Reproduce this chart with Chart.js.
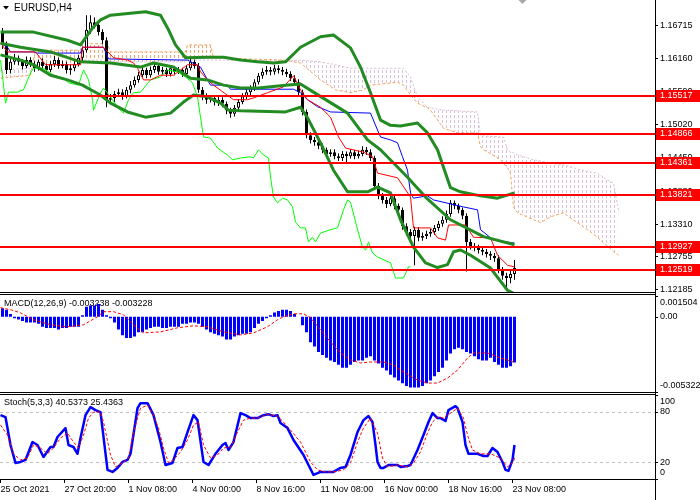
<!DOCTYPE html>
<html><head><meta charset="utf-8">
<script src="https://cdn.jsdelivr.net/npm/chart.js@4.4.1/dist/chart.umd.min.js"></script>
<style>
html,body{margin:0;padding:0;background:#fff;}
#wrap{position:relative;width:700px;height:500px;overflow:hidden;background:#fff;}
canvas{position:absolute;left:0;}
</style></head><body>
<div id="wrap">
<canvas id="cMain" width="700" height="293" style="top:0px"></canvas>
<canvas id="cMacd" width="700" height="100" style="top:293px"></canvas>
<canvas id="cStoch" width="700" height="107" style="top:393px"></canvas>
</div>
<script>
// ---------------- DATA ----------------
const titleText = 'EURUSD,H4';
const macdTitle = 'MACD(12,26,9) -0.003238 -0.003228';
const stochTitle = 'Stoch(5,3,3) 40.5373 25.4363';

const xLabels = ['25 Oct 2021','27 Oct 20:00','1 Nov 08:00','4 Nov 00:00','8 Nov 16:00','11 Nov 08:00','16 Nov 00:00','18 Nov 16:00','23 Nov 08:00'];
const xLabelBars = [0,16,32,48,64,80,96,112,128];

const yTicks = [1.12185,1.12755,1.13310,1.13880,1.14450,1.15020,1.15590,1.16160,1.16715];
const levels = [1.15517,1.14866,1.14361,1.13821,1.12927,1.12519];
const priceMin = 1.12150, priceMax = 1.17161;

const opens = [
1.1661,1.1639,1.1596,1.1610,1.1617,1.1610,1.1603,1.1613,1.1606,1.1599,
1.1610,1.1603,1.1596,1.1606,1.1613,1.1603,1.1606,1.1596,1.1599,1.1606,
1.1617,1.1630,1.1665,1.1678,1.1673,1.1661,1.1647,1.1545,1.1548,1.1555,
1.1558,1.1551,1.1562,1.1570,1.1579,1.1587,1.1596,1.1587,1.1596,1.1603,
1.1593,1.1596,1.1589,1.1599,1.1593,1.1596,1.1589,1.1599,1.1610,1.1603,
1.1562,1.1551,1.1545,1.1548,1.1541,1.1545,1.1538,1.1527,1.1521,1.1531,
1.1541,1.1551,1.1558,1.1565,1.1575,1.1586,1.1593,1.1596,1.1593,1.1599,
1.1596,1.1593,1.1589,1.1582,1.1575,1.1558,1.1524,1.1484,1.1476,1.1472,
1.1466,1.1459,1.1452,1.1455,1.1448,1.1445,1.1452,1.1448,1.1455,1.1448,
1.1452,1.1459,1.1455,1.1445,1.1397,1.1380,1.1373,1.1366,1.1376,1.1363,
1.1356,1.1328,1.1318,1.1311,1.1322,1.1308,1.1311,1.1315,1.1318,1.1325,
1.1332,1.1339,1.1349,1.1368,1.1363,1.1356,1.1346,1.1301,1.1294,1.1291,
1.1287,1.1284,1.1280,1.1277,1.1273,1.1253,1.1243,1.1239,1.1246];
const highs = [
1.1668,1.1645,1.1616,1.1624,1.1621,1.1615,1.1619,1.1618,1.1611,1.1614,
1.1616,1.1607,1.1611,1.1620,1.1617,1.1612,1.1610,1.1605,1.1611,1.1622,
1.1636,1.1690,1.1690,1.1686,1.1680,1.1666,1.1652,1.1555,1.1560,1.1564,
1.1563,1.1567,1.1577,1.1585,1.1593,1.1601,1.1600,1.1602,1.1609,1.1607,
1.1601,1.1600,1.1604,1.1603,1.1601,1.1600,1.1604,1.1617,1.1614,1.1608,
1.1567,1.1556,1.1553,1.1552,1.1550,1.1549,1.1542,1.1531,1.1536,1.1546,
1.1556,1.1564,1.1570,1.1580,1.1591,1.1599,1.1603,1.1601,1.1605,1.1604,
1.1601,1.1598,1.1594,1.1587,1.1580,1.1562,1.1528,1.1489,1.1481,1.1478,
1.1470,1.1463,1.1460,1.1460,1.1453,1.1457,1.1456,1.1460,1.1459,1.1458,
1.1465,1.1464,1.1460,1.1449,1.1402,1.1385,1.1378,1.1382,1.1380,1.1367,
1.1360,1.1333,1.1323,1.1327,1.1326,1.1317,1.1320,1.1323,1.1330,1.1337,
1.1345,1.1355,1.1373,1.1372,1.1367,1.1360,1.1350,1.1306,1.1299,1.1296,
1.1292,1.1289,1.1285,1.1282,1.1278,1.1258,1.1248,1.1251,1.1270];
const lows = [
1.1632,1.1589,1.1590,1.1605,1.1604,1.1597,1.1599,1.1601,1.1593,1.1595,
1.1598,1.1590,1.1592,1.1601,1.1598,1.1599,1.1590,1.1588,1.1594,1.1602,
1.1612,1.1626,1.1658,1.1667,1.1655,1.1640,1.1532,1.1538,1.1541,1.1550,
1.1545,1.1547,1.1556,1.1566,1.1574,1.1583,1.1582,1.1583,1.1591,1.1588,
1.1588,1.1584,1.1585,1.1587,1.1589,1.1584,1.1585,1.1595,1.1598,1.1557,
1.1544,1.1538,1.1540,1.1535,1.1534,1.1532,1.1520,1.1514,1.1516,1.1527,
1.1537,1.1546,1.1553,1.1560,1.1571,1.1581,1.1588,1.1587,1.1588,1.1590,
1.1587,1.1584,1.1577,1.1569,1.1552,1.1518,1.1479,1.1470,1.1466,1.1460,
1.1453,1.1446,1.1447,1.1443,1.1440,1.1440,1.1438,1.1444,1.1443,1.1444,
1.1448,1.1450,1.1440,1.1392,1.1374,1.1367,1.1359,1.1362,1.1357,1.1350,
1.1322,1.1312,1.1304,1.1261,1.1302,1.1303,1.1306,1.1310,1.1313,1.1320,
1.1327,1.1334,1.1344,1.1357,1.1350,1.1340,1.1250,1.1288,1.1285,1.1281,
1.1278,1.1274,1.1270,1.1267,1.1247,1.1236,1.1223,1.1230,1.1236];
const closes = [
1.1639,1.1596,1.1610,1.1617,1.1610,1.1603,1.1613,1.1606,1.1599,1.1610,
1.1603,1.1596,1.1606,1.1613,1.1603,1.1606,1.1596,1.1599,1.1606,1.1617,
1.1630,1.1665,1.1678,1.1673,1.1661,1.1647,1.1545,1.1548,1.1555,1.1558,
1.1551,1.1562,1.1570,1.1579,1.1587,1.1596,1.1587,1.1596,1.1603,1.1593,
1.1596,1.1589,1.1599,1.1593,1.1596,1.1589,1.1599,1.1610,1.1603,1.1562,
1.1551,1.1545,1.1548,1.1541,1.1545,1.1538,1.1527,1.1521,1.1531,1.1541,
1.1551,1.1558,1.1565,1.1575,1.1586,1.1593,1.1596,1.1593,1.1599,1.1596,
1.1593,1.1589,1.1582,1.1575,1.1558,1.1524,1.1484,1.1476,1.1472,1.1466,
1.1459,1.1452,1.1455,1.1448,1.1445,1.1452,1.1448,1.1455,1.1448,1.1452,
1.1459,1.1455,1.1445,1.1397,1.1380,1.1373,1.1366,1.1376,1.1363,1.1356,
1.1328,1.1318,1.1311,1.1322,1.1308,1.1311,1.1315,1.1318,1.1325,1.1332,
1.1339,1.1349,1.1368,1.1363,1.1356,1.1346,1.1301,1.1294,1.1291,1.1287,
1.1284,1.1280,1.1277,1.1273,1.1253,1.1243,1.1239,1.1246,1.1256];

// Bollinger bands [bar, price]
const bbUpper = [[-0.5,1.1661],[7.75,1.1661],[16.25,1.1647],[19.5,1.1639],[20.75,1.1651],[22.5,1.1668],[24.5,1.1682],[27,1.1690],[35.75,1.1696],[39.5,1.1690],[41.5,1.1665],[43.25,1.1639],[45.75,1.1617],[51.25,1.1618],[55.25,1.1618],[59.5,1.1613],[63.75,1.1610],[67.75,1.1608],[70.75,1.1610],[74.5,1.1635],[79.5,1.1653],[82.75,1.1656],[87,1.1634],[89.5,1.1601],[92,1.1557],[94.5,1.1510],[97,1.1501],[99.5,1.1500],[103.75,1.1505],[106.25,1.1488],[108.75,1.1459],[112,1.1394],[114.5,1.1387],[119.5,1.1380],[123.75,1.1376],[128,1.1385]];
const bbMiddle = [[-0.5,1.1642],[4.5,1.1635],[12,1.1627],[19.5,1.1610],[27,1.1608],[34.5,1.1601],[37.75,1.1608],[42.75,1.1601],[47,1.1582],[51.25,1.1579],[55.25,1.1570],[59.5,1.1565],[64,1.1565],[70.75,1.1570],[74.5,1.1572],[77.75,1.1558],[86.25,1.1522],[91.25,1.1476],[94.5,1.1459],[101.25,1.1412],[105.75,1.1378],[112,1.1339],[120.25,1.1310],[128,1.1296]];
const bbLower = [[-0.5,1.1622],[4.5,1.1613],[7.75,1.1605],[12,1.1587],[16.25,1.1579],[20,1.1570],[21.25,1.1565],[24.5,1.1553],[27,1.1539],[31.25,1.1524],[35.75,1.1515],[42,1.1522],[45.25,1.1541],[47.75,1.1553],[51.25,1.1550],[54.5,1.1539],[56.5,1.1527],[59.5,1.1526],[70.75,1.1524],[74.5,1.1532],[76.25,1.1514],[79.5,1.1471],[82.75,1.1424],[86.25,1.1387],[91.25,1.1387],[93.75,1.1395],[97,1.1385],[99.5,1.1339],[102.75,1.1292],[105.75,1.1265],[108.75,1.1257],[111.25,1.1262],[112.75,1.1284],[114.5,1.1287],[117,1.1278],[122,1.1256],[126.25,1.1218],[128,1.1212]];

// Ichimoku [bar, price]
const tenkan = [[-0.5,1.1642],[1.25,1.1627],[8.25,1.1627],[10.75,1.1605],[19.5,1.1605],[20,1.1635],[25.25,1.1635],[27.75,1.1617],[31.25,1.1613],[32.75,1.1608],[33.75,1.1599],[35.25,1.1579],[37,1.1579],[39.5,1.1587],[42.75,1.1587],[46.25,1.1605],[48.75,1.1605],[49.5,1.1593],[51.25,1.1579],[52.75,1.1570],[57.75,1.1545],[61.25,1.1545],[62.75,1.1548],[66.25,1.1557],[70.25,1.1567],[72.75,1.1586],[74.5,1.1562],[76.25,1.1545],[79.5,1.1532],[82,1.1515],[84,1.1481],[85.75,1.1462],[90.25,1.1455],[92.5,1.1447],[93.75,1.1419],[98.75,1.1411],[102,1.1378],[102.75,1.1325],[107,1.1325],[108.75,1.1308],[110.75,1.1304],[111.5,1.1330],[115.75,1.1330],[117.75,1.1309],[122,1.1308],[123.75,1.1278],[126.25,1.1261],[128,1.1258]];
const kijun = [[-0.5,1.1642],[1.25,1.1635],[2,1.1627],[7.75,1.1627],[8.75,1.1625],[19.5,1.1625],[20,1.1635],[25.25,1.1635],[26.5,1.1615],[46.25,1.1613],[49.5,1.1601],[51.25,1.1579],[52,1.1570],[56.25,1.1570],[57,1.1563],[72.75,1.1563],[74.5,1.1557],[76.25,1.1545],[78.75,1.1533],[82,1.1524],[92,1.1522],[93.75,1.1493],[94.5,1.1481],[97,1.1476],[98.75,1.1471],[100,1.1447],[101.25,1.1424],[102,1.1385],[102.75,1.1376],[106.25,1.1380],[107.75,1.1373],[115.25,1.1361],[118.75,1.1356],[119.5,1.1322],[122.75,1.1304],[128,1.1299]];
const chikou = [[-0.5,1.1613],[0.25,1.1570],[0.75,1.1539],[1.5,1.1558],[3.75,1.1558],[5.25,1.1562],[7,1.1591],[7.75,1.1599],[10.25,1.1599],[12.75,1.1587],[15.25,1.1582],[16.5,1.1574],[19,1.1570],[20.25,1.1596],[21.5,1.1579],[22.5,1.1545],[22.75,1.1527],[24.5,1.1557],[25.25,1.1565],[27,1.1550],[28.75,1.1532],[30.25,1.1522],[31.5,1.1545],[32.75,1.1557],[34.5,1.1558],[37,1.1579],[39.5,1.1584],[41.25,1.1596],[43.75,1.1593],[45.75,1.1584],[47.5,1.1574],[48.75,1.1550],[49.5,1.1515],[50.25,1.1481],[52,1.1479],[53.75,1.1462],[56.25,1.1450],[57.5,1.1442],[59.5,1.1445],[62,1.1447],[62.75,1.1445],[64,1.1459],[65.25,1.1450],[66.5,1.1445],[67,1.1412],[67.75,1.1378],[68.75,1.1368],[70,1.1376],[71.25,1.1373],[72.5,1.1361],[73.25,1.1335],[74.5,1.1325],[75.75,1.1325],[76.5,1.1301],[77.5,1.1309],[78.25,1.1301],[79.5,1.1316],[82,1.1322],[83.75,1.1325],[85.25,1.1356],[86.25,1.1373],[87,1.1369],[89,1.1316],[90,1.1292],[90.75,1.1287],[91.5,1.1301],[92.5,1.1282],[93.75,1.1275],[97,1.1265],[98.25,1.1239],[100.25,1.1239],[101.5,1.1258],[102,1.1258]];
const cloudX = [-0.5,7,8.25,19.5,20,26.25,27,45.75,46.25,52,52.75,70.25,74.5,79.5,83.25,87,90.25,92,98.75,100.25,102,103.75,106.25,107,110.25,113.75,118.75,119.5,120.25,124.5,125.25,126.25,127,127.75,128.75,132.75,134.5,137,140.25,142,143.75,147,148.75,150.25,151.25,152.75,153.75,154];
const spanA = [1.1582,1.1587,1.1630,1.1630,1.1641,1.1641,1.1627,1.1627,1.1639,1.1639,1.1617,1.1613,1.1608,1.1579,1.1562,1.1557,1.1562,1.1570,1.1575,1.1570,1.1553,1.1539,1.1531,1.1527,1.1496,1.1488,1.1488,1.1464,1.1459,1.1442,1.1436,1.1428,1.1419,1.1361,1.1351,1.1339,1.1334,1.1344,1.1351,1.1342,1.1334,1.1318,1.1309,1.1299,1.1294,1.1284,1.1280,1.1278];
const spanB = [1.1596,1.1599,1.1605,1.1605,1.1613,1.1613,1.1610,1.1610,1.1613,1.1613,1.1613,1.1611,1.1613,1.1610,1.1605,1.1599,1.1599,1.1599,1.1599,1.1599,1.1584,1.1550,1.1532,1.1531,1.1527,1.1526,1.1524,1.1484,1.1483,1.1481,1.1481,1.1459,1.1455,1.1454,1.1450,1.1442,1.1440,1.1436,1.1433,1.1430,1.1426,1.1421,1.1419,1.1412,1.1407,1.1402,1.1364,1.1356];

// MACD
const macdMin = -0.005322, macdMax = 0.001504;
const macdTicks = [0.001504, 0, -0.005322];
const macdHist = [
0.0006,0.0005,0.0002,-0.0001,-0.0002,-0.0003,-0.0004,-0.0004,-0.0004,-0.0005,
-0.0007,-0.0008,-0.0008,-0.0008,-0.0009,-0.0008,-0.0008,-0.0007,-0.0007,-0.0007,
0.0001,0.0007,0.0008,0.0008,0.0009,0.0005,0.0001,-0.0001,-0.0004,-0.0009,
-0.0013,-0.0015,-0.0015,-0.0014,-0.0011,-0.0011,-0.0009,-0.0008,-0.0007,-0.0007,
-0.0008,-0.0008,-0.0007,-0.0007,-0.0007,-0.0005,-0.0005,-0.0004,-0.0004,-0.0005,
-0.0007,-0.0009,-0.0011,-0.0012,-0.0013,-0.0014,-0.0016,-0.0016,-0.0014,-0.0013,
-0.0012,-0.0012,-0.0011,-0.0008,-0.0005,-0.0003,-0.0001,0.0001,0.0003,0.0004,
0.0005,0.0005,0.0004,0.0002,0.0000,-0.0006,-0.0011,-0.0018,-0.0021,-0.0025,
-0.0027,-0.0029,-0.0031,-0.0032,-0.0034,-0.0036,-0.0036,-0.0034,-0.0032,-0.0031,
-0.0031,-0.0029,-0.0028,-0.0031,-0.0033,-0.0036,-0.0038,-0.0041,-0.0043,-0.0045,
-0.0047,-0.0049,-0.0050,-0.0050,-0.0050,-0.0049,-0.0047,-0.0045,-0.0042,-0.0039,
-0.0036,-0.0031,-0.0026,-0.0023,-0.0022,-0.0023,-0.0025,-0.0026,-0.0028,-0.0030,
-0.0031,-0.0031,-0.0029,-0.0032,-0.0034,-0.0036,-0.0036,-0.0035,-0.003238];
const macdSignal = [[-0.5,0.00064],[2,0.0005],[4.5,0.00028],[7.75,-0.00021],[12,-0.00057],[16.25,-0.00071],[20.25,-0.00057],[23.75,0.0],[25.25,0.00036],[27.75,0.00036],[30.25,0.00014],[32.75,-0.00057],[35.25,-0.00114],[39.5,-0.00107],[43.75,-0.00078],[47.75,-0.00064],[51.25,-0.00071],[55.25,-0.00107],[59.5,-0.00128],[62.75,-0.00114],[66.25,-0.00071],[68.75,-0.00021],[70.25,0.0],[72.75,0.00021],[75.25,0.00021],[77,-0.00007],[79.5,-0.00092],[82,-0.00178],[84.5,-0.00256],[87,-0.00306],[89.5,-0.00327],[92,-0.0032],[95.25,-0.0032],[97.75,-0.00341],[100.25,-0.00391],[103.75,-0.00448],[106.25,-0.00469],[108.75,-0.00469],[111.25,-0.00434],[113.75,-0.00377],[116.25,-0.00292],[117.75,-0.00256],[121.25,-0.00256],[123.75,-0.00284],[126.25,-0.00306],[128,-0.003228]];

// Stochastic
const stochTicks = [100, 80, 20, 0];
const stochLevels = [80, 20];
const stochK = [[-0.5,76.0],[0.75,73.7],[2,40.5],[3.25,19.1],[4.5,20.3],[5.75,22.7],[7.5,44.0],[8.75,40.5],[10.25,26.2],[12,38.1],[12.75,38.1],[13.75,50.0],[15.75,60.6],[16.5,40.5],[17.75,38.1],[18.75,30.0],[19.5,48.8],[20.75,76.0],[22,85.5],[23.25,82.0],[24.5,79.6],[26.25,10.8],[27.5,8.4],[28.75,13.2],[30,20.3],[31.25,22.7],[32,30.0],[33.75,84.3],[34.5,90.3],[36.25,90.3],[37.75,76.0],[39.5,44.0],[40.75,16.7],[42.5,19.1],[43.75,36.9],[45,38.1],[46.25,55.9],[47.75,76.0],[48.75,70.1],[50.25,20.3],[51.5,16.7],[53.25,30.0],[55,40.5],[55.75,42.8],[56.5,34.5],[57.75,44.0],[59.5,78.4],[60.75,76.0],[62,72.5],[63.75,72.5],[65.25,76.0],[66.5,77.2],[67.75,74.9],[68.75,76.0],[69.5,66.6],[71.25,60.6],[72.75,46.4],[75.25,28.6],[76.5,16.7],[77.75,4.9],[79.5,8.4],[81.25,8.4],[82.75,8.4],[84.5,13.2],[85.75,14.4],[87,28.6],[88.75,55.9],[90.25,70.1],[91.5,74.9],[92.5,67.8],[93.25,40.5],[93.75,20.3],[94.5,13.2],[95.25,13.2],[96.5,16.7],[98.75,16.7],[99.5,14.4],[101.25,15.5],[102,16.7],[103.75,34.5],[105.25,52.3],[106.5,67.8],[107.5,78.4],[108.75,72.5],[109.5,72.5],[110.75,69.0],[111.5,82.0],[113.25,86.7],[113.75,84.3],[115,67.8],[115.75,40.5],[116.5,30.0],[118.75,30.0],[120.25,27.4],[121.25,27.4],[122.5,36.9],[123.75,32.2],[125,20.3],[125.75,10.8],[126.5,9.6],[127.5,22.7],[128,40.5]];
const stochD = [[-0.5,64.2],[1.25,52.3],[2.75,30.0],[4.5,22.7],[6.25,25.0],[7.75,40.5],[9.5,36.9],[11.25,30.0],[12.75,36.9],[14.5,48.8],[16.25,54.7],[17.75,44.0],[19,36.9],[20.25,52.3],[21.5,72.5],[22.75,79.6],[24.5,79.6],[25.25,67.8],[27,28.6],[28.25,14.4],[30,19.1],[31.5,25.0],[32.75,55.9],[34.5,84.3],[36.25,87.9],[37.75,76.0],[39,60.6],[40.25,36.9],[41.5,19.1],[42.75,22.7],[44.5,32.2],[46.25,46.4],[47.75,64.2],[49,67.8],[50.25,40.5],[52,25.0],[53.75,28.6],[55.25,36.9],[57,38.1],[58.75,55.9],[60.25,70.1],[62,72.5],[63.75,72.5],[66.25,77.2],[68.75,74.9],[70.25,67.8],[72,58.2],[74.5,44.0],[77,20.3],[78.75,10.8],[80.75,8.4],[82.75,8.4],[85.25,10.8],[87,19.1],[88.75,44.0],[90.25,60.6],[92,72.5],[93.75,54.7],[95,25.0],[96.25,14.4],[98.75,16.7],[101.25,14.4],[102.75,19.1],[104.5,32.2],[106.25,54.7],[107.5,67.8],[108.75,73.7],[110.25,72.5],[112,78.4],[113.75,84.3],[115.25,72.5],[116.25,52.3],[117.5,34.5],[119.5,30.0],[122,30.0],[124.5,25.0],[126.25,14.4],[127.75,20.3],[128,25.4]];

// ---------------- RENDER ----------------
const FAM = "'Liberation Sans', Arial, sans-serif";
const FONT = "9px " + FAM;
Chart.defaults.font.family = FAM;
Chart.defaults.font.size = 9;
Chart.defaults.color = '#000';

const X_MIN = -0.625, X_MAX = 163.125;   // 4px per bar over 655px plot width
const AXIS_W = 45;
const pts = arr => arr.map(([x, y]) => ({x, y}));

function hatch(ctx2d, color) {
  const c = document.createElement('canvas'); c.width = 4; c.height = 5;
  const g = c.getContext('2d'); g.fillStyle = color; g.fillRect(2, 0, 1, 3);
  return ctx2d.createPattern(c, 'repeat');
}

function hiddenX() {
  return {type: 'linear', min: X_MIN, max: X_MAX, display: false, offset: false};
}
function base(padding) {
  return {
    responsive: false, animation: false, events: [],
    layout: {autoPadding: false, padding},
    plugins: {legend: {display: false}, tooltip: {enabled: false}}
  };
}
function lineDs(data, color, width, order, extra) {
  return Object.assign({type: 'line', data: pts(data), borderColor: color, borderWidth: width,
    pointRadius: 0, tension: 0, fill: false, order, borderJoinStyle: 'round'}, extra || {});
}

// pane axis labels drawn next to the right axis (clamped inside pane like the terminal)
function paneAxis(values, fmt) {
  return {
    id: 'paneAxis',
    afterDraw(chart) {
      const {ctx, chartArea: a, scales: {y}} = chart;
      ctx.save();
      ctx.fillStyle = '#000'; ctx.font = FONT; ctx.textBaseline = 'middle'; ctx.textAlign = 'left';
      values.forEach(v => {
        const py = y.getPixelForValue(v);
        ctx.fillRect(a.right, Math.round(py), 3, 1);
        const ty = Math.min(Math.max(py, a.top + 7), a.bottom - 6);
        ctx.fillText(fmt(v), a.right + 5, ty);
      });
      ctx.restore();
    }
  };
}
function paneFrame(top, bottom) {
  return {
    id: 'paneFrame',
    afterDraw(chart) {
      const {ctx, chartArea: a} = chart;
      ctx.save(); ctx.fillStyle = '#000';
      if (top != null) ctx.fillRect(0, top, a.right, 1);
      if (bottom != null) ctx.fillRect(0, bottom, a.right, 1);
      ctx.fillRect(a.right, 0, 1, chart.height);
      ctx.restore();
    }
  };
}
function paneTitle(text, y) {
  return {
    id: 'paneTitle',
    beforeDatasetsDraw(chart) {
      const ctx = chart.ctx;
      ctx.save(); ctx.fillStyle = '#000'; ctx.font = FONT; ctx.textBaseline = 'middle';
      ctx.fillText(text, 4, y);
      ctx.restore();
    }
  };
}

// ---- main price pane ----
const mainCtx = document.getElementById('cMain').getContext('2d');
const orangeHatch = hatch(mainCtx, '#F4A460');
const thistleHatch = hatch(mainCtx, '#D8BFD8');

const mainDecor = {
  id: 'mainDecor',
  beforeDatasetsDraw(chart) {
    const ctx = chart.ctx;
    ctx.save();
    ctx.fillStyle = '#000';
    ctx.beginPath(); ctx.moveTo(3, 6); ctx.lineTo(9, 6); ctx.lineTo(6, 9.5); ctx.closePath(); ctx.fill();
    ctx.font = "10px " + FAM; ctx.textBaseline = 'middle';
    ctx.fillText(titleText, 14, 8);
    ctx.restore();
  },
  afterDatasetsDraw(chart) {
    const {ctx, chartArea: a, scales: {x, y}} = chart;
    ctx.save();
    levels.forEach(v => {
      const py = Math.round(y.getPixelForValue(v));
      ctx.fillStyle = '#FF0000';
      ctx.fillRect(a.left, py - 1, a.right - a.left, 2);
      ctx.fillRect(a.right + 1, py - 6, 44, 12);
      ctx.fillStyle = '#FFFFFF'; ctx.font = FONT; ctx.textBaseline = 'middle'; ctx.textAlign = 'left';
      ctx.fillText(v.toFixed(5), a.right + 5, py);
    });
    const mx = x.getPixelForValue(closes.length + 1);
    ctx.fillStyle = '#A9A9A9';
    ctx.beginPath(); ctx.moveTo(mx - 4, 0); ctx.lineTo(mx + 4, 0); ctx.lineTo(mx, 4); ctx.closePath(); ctx.fill();
    ctx.restore();
  }
};

new Chart(mainCtx, {
  type: 'line',
  data: {datasets: [
    {type: 'line', data: cloudX.map((x, i) => ({x, y: spanA[i]})), borderColor: '#F4A460', borderWidth: 1,
      borderDash: [3, 2], pointRadius: 0, tension: 0, order: 40,
      fill: {target: 1, above: orangeHatch, below: thistleHatch}},
    {type: 'line', data: cloudX.map((x, i) => ({x, y: spanB[i]})), borderColor: '#D8BFD8', borderWidth: 1,
      borderDash: [2, 2], pointRadius: 0, tension: 0, order: 39, fill: false},
    {type: 'bar', data: highs.map((h, i) => ({x: i, y: [lows[i], h]})), backgroundColor: '#000',
      barThickness: 1, grouped: false, inflateAmount: 0, order: 31},
    {type: 'bar', data: opens.map((o, i) => ({x: i, y: [o, closes[i]]})),
      backgroundColor: c => closes[c.dataIndex] >= opens[c.dataIndex] ? '#FFFFFF' : '#000000',
      borderColor: '#000', borderWidth: 1, borderSkipped: false, barThickness: 3, grouped: false,
      inflateAmount: 0, order: 30},
    lineDs(chikou, '#00FF00', 1, 8),
    lineDs(kijun, '#0000FF', 1, 6),
    lineDs(tenkan, '#FF0000', 1, 5),
    lineDs(bbLower, '#228B22', 3, 3),
    lineDs(bbMiddle, '#228B22', 3, 3),
    lineDs(bbUpper, '#228B22', 3, 3)
  ]},
  options: Object.assign(base({top: 0, bottom: 1, left: 0, right: 0}), {
    scales: {
      x: hiddenX(),
      y: {position: 'right', min: priceMin, max: priceMax,
        afterBuildTicks: ax => { ax.ticks = yTicks.map(v => ({value: v})); },
        afterFit: ax => { ax.width = AXIS_W; ax.paddingTop = 0; ax.paddingBottom = 0; },
        ticks: {callback: v => Number(v).toFixed(5), padding: 2, autoSkip: false, color: '#000', font: {size: 9}},
        grid: {drawOnChartArea: false, drawTicks: true, tickLength: 3, color: '#000'},
        border: {display: true, color: '#000'}}
    }
  }),
  plugins: [mainDecor, paneFrame(null, 292)]
});

// ---- MACD pane ----
new Chart(document.getElementById('cMacd'), {
  type: 'line',
  data: {datasets: [
    lineDs(macdSignal, '#FF0000', 1, 1, {borderDash: [3, 2]}),
    {type: 'bar', data: macdHist.map((v, i) => ({x: i, y: v})), backgroundColor: '#0000FF',
      barThickness: 3, grouped: false, inflateAmount: 0, order: 2}
  ]},
  options: Object.assign(base({top: 2.5, bottom: 1, left: 0, right: 0}), {
    scales: {
      x: hiddenX(),
      y: {position: 'right', min: macdMin, max: macdMax,
        afterFit: ax => { ax.width = AXIS_W; ax.paddingTop = 0; ax.paddingBottom = 0; },
        ticks: {display: false}, grid: {display: false},
        border: {display: true, color: '#000'}}
    }
  }),
  plugins: [paneTitle(macdTitle, 11), paneAxis(macdTicks, v => v === 0 ? '0.00' : v.toFixed(6)), paneFrame(1, 99)]
});

// ---- Stochastic pane + time axis ----
const stochLevelPlugin = {
  id: 'stochLevels',
  beforeDatasetsDraw(chart) {
    const {ctx, chartArea: a, scales: {y}} = chart;
    ctx.save(); ctx.strokeStyle = '#C0C0C0'; ctx.lineWidth = 1; ctx.setLineDash([3, 3]);
    stochLevels.forEach(v => {
      const py = Math.round(y.getPixelForValue(v)) + 0.5;
      ctx.beginPath(); ctx.moveTo(a.left, py); ctx.lineTo(a.right, py); ctx.stroke();
    });
    ctx.restore();
  }
};
new Chart(document.getElementById('cStoch'), {
  type: 'line',
  data: {datasets: [
    lineDs(stochD, '#FF0000', 1, 1, {borderDash: [3, 2]}),
    lineDs(stochK, '#0000FF', 2.5, 2)
  ]},
  options: Object.assign(base({top: 2, bottom: 0, left: 0, right: 0}), {
    scales: {
      x: {type: 'linear', min: X_MIN, max: X_MAX, offset: false, position: 'bottom',
        afterBuildTicks: ax => { ax.ticks = xLabelBars.map(b => ({value: b - 0.5})); },
        afterFit: ax => { ax.height = 21; ax.paddingLeft = 0; ax.paddingRight = 0; },
        ticks: {autoSkip: false, maxRotation: 0, minRotation: 0, align: 'start', padding: 1,
          color: '#000', font: {size: 9}, callback: (v, i) => xLabels[i]},
        grid: {display: true, drawOnChartArea: false, drawTicks: true, tickLength: 4, color: '#000'},
        border: {display: true, color: '#000'}},
      y: {position: 'right', min: 0, max: 100,
        afterFit: ax => { ax.width = AXIS_W; ax.paddingTop = 0; ax.paddingBottom = 0; },
        ticks: {display: false}, grid: {display: false},
        border: {display: true, color: '#000'}}
    }
  }),
  plugins: [paneTitle(stochTitle, 10), stochLevelPlugin, paneAxis(stochTicks, v => String(v)), paneFrame(1, null)]
});
</script>
</body></html>
